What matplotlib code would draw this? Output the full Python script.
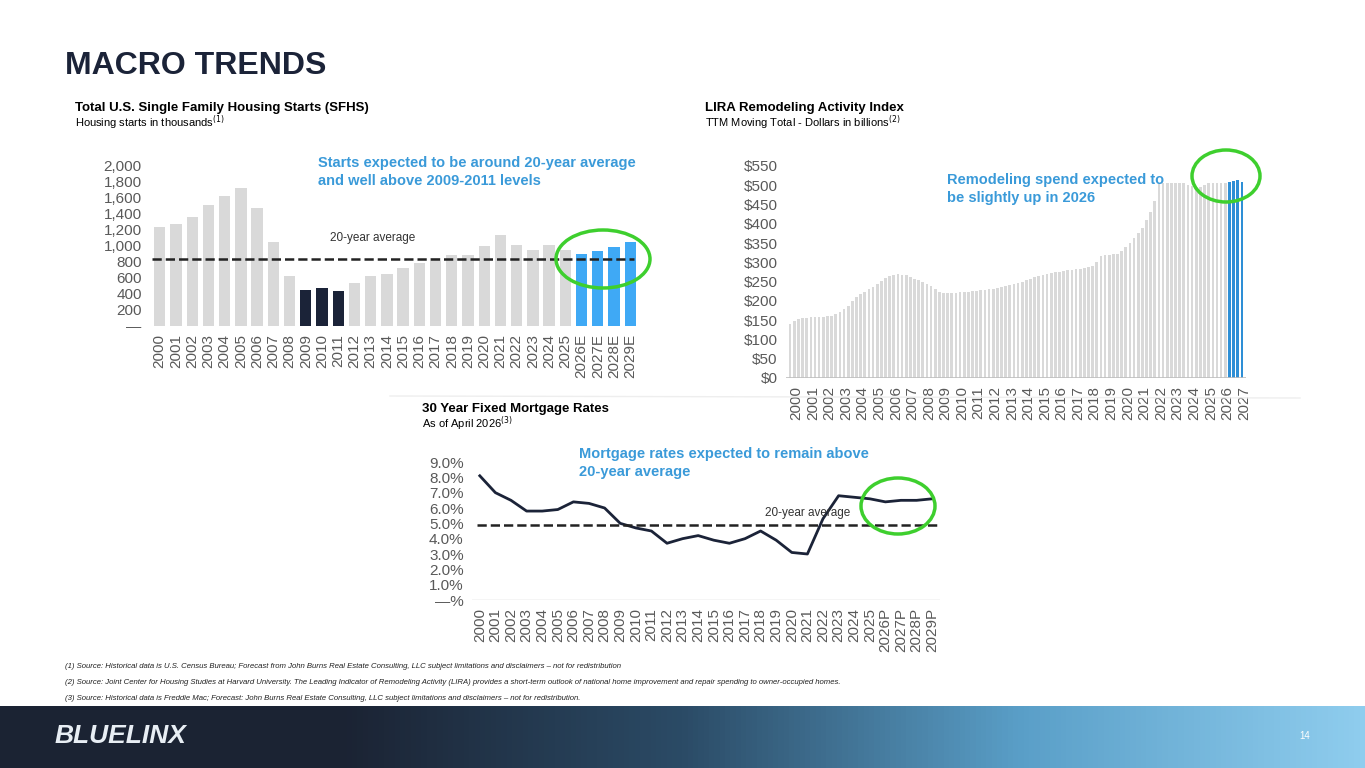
import numpy as np
import matplotlib.pyplot as plt
from matplotlib.patches import Ellipse
from matplotlib.colors import LinearSegmentedColormap

plt.rcParams['font.family'] = ['Liberation Sans', 'DejaVu Sans']

# housing starts
hs_years = [str(y) for y in range(2000, 2026)] + ['2026E', '2027E', '2028E', '2029E']
hs_vals = [1230, 1273, 1359, 1499, 1611, 1716, 1465, 1046, 622, 445, 471, 431, 535, 618,
           648, 715, 782, 849, 876, 888, 991, 1127, 1005, 947, 1006, 940, 900, 930, 980, 1040]
hs_avg = 835

# LIRA quarterly, 2000Q1 - 2027Q2
lira_vals = [141, 148, 153, 155, 156, 158, 158, 157, 157, 160, 162, 165, 170, 178, 188, 200,
             210, 218, 224, 230, 236, 244, 252, 260, 265, 268, 271, 268, 266, 262, 258, 254,
             250, 244, 238, 230, 224, 220, 220, 220, 221, 222, 223, 224, 226, 227, 228, 229,
             230, 232, 234, 236, 238, 240, 243, 246, 250, 254, 258, 262, 265, 268, 270, 272,
             274, 276, 278, 280, 281, 282, 284, 286, 288, 290, 300, 317, 320, 320, 321, 322,
             330, 340, 350, 362, 375, 390, 410, 430, 460, 507, 507, 507, 507, 507, 507, 507,
             500, 498, 495, 495, 500, 505, 505, 505, 505, 505, 508, 510, 514, 508]
lira_years = [str(y) for y in range(2000, 2028)]
n_forecast = 4

# mortgage rates
mr_years = [str(y) for y in range(2000, 2026)] + ['2026P', '2027P', '2028P', '2029P']
mr_vals = [8.1, 7.0, 6.5, 5.8, 5.8, 5.9, 6.4, 6.3, 6.0, 5.0, 4.7, 4.5, 3.7, 4.0, 4.2,
           3.9, 3.7, 4.0, 4.5, 3.9, 3.1, 3.0, 5.3, 6.8, 6.7, 6.6, 6.4, 6.5, 6.5, 6.6]
mr_avg = 4.9

W, H = 1365, 768
fig = plt.figure(figsize=(13.65, 7.68), dpi=100)
GRAY = '#d9d9d9'
BLUE = '#3fa9f5'
NAVY = '#1b2338'
TXT = '#595959'
ANN = '#3a9ad9'
TICK = 11

def fx(x): return x / W
def fy(y): return 1 - y / H

fig.text(fx(65), fy(66), 'MACRO TRENDS', fontsize=23, fontweight='bold', color=NAVY, va='center')

# ---- chart 1
ax1 = fig.add_axes([fx(150), fy(326), fx(490), (326 - 165) / H])
cols = [GRAY] * len(hs_vals)
for i, y in enumerate(hs_years):
    if y in ('2009', '2010', '2011'):
        cols[i] = NAVY
    if y.endswith('E'):
        cols[i] = BLUE
x1 = np.arange(len(hs_vals))
ax1.bar(x1, hs_vals, width=0.7, color=cols)
ax1.plot([-0.5, len(hs_vals) - 0.8], [hs_avg, hs_avg], '--', color='#222222', lw=1.8)
ax1.text(10.5, 1050, '20-year average', fontsize=8.5, color='#333333')
ax1.set_ylim(0, 2000)
ax1.set_xlim(-0.6, len(hs_vals) - 0.4)
ax1.set_yticks(range(0, 2001, 200))
ax1.set_yticklabels(['—'] + [f'{v:,}' for v in range(200, 2001, 200)])
ax1.set_xticks(x1)
ax1.set_xticklabels(hs_years, rotation=90)
ax1.tick_params(length=0, labelsize=TICK, labelcolor=TXT, pad=6)
for s in ax1.spines.values():
    s.set_visible(False)
fig.text(fx(75), fy(108), 'Total U.S. Single Family Housing Starts (SFHS)', fontsize=9.5, fontweight='bold', va='center')
fig.text(fx(75), fy(123), 'Housing starts in thousands$^{(1)}$', fontsize=8, va='center')
fig.text(fx(318), fy(172), 'Starts expected to be around 20-year average\nand well above 2009-2011 levels',
         fontsize=10.5, fontweight='bold', color=ANN, va='center', linespacing=1.3)

# ---- chart 2
ax2 = fig.add_axes([fx(786), fy(378), fx(460), 212 / H])
x2 = np.arange(len(lira_vals))
cols2 = [GRAY] * (len(lira_vals) - n_forecast) + ['#2e8fd6'] * n_forecast
ax2.bar(x2, lira_vals, width=0.65, color=cols2)
ax2.set_ylim(0, 550)
ax2.set_xlim(-1, len(lira_vals))
ax2.set_yticks(range(0, 551, 50))
ax2.set_yticklabels([f'${v}' for v in range(0, 551, 50)])
ax2.set_xticks(np.arange(len(lira_years)) * 4 + 1.5)
ax2.set_xticklabels(lira_years, rotation=90)
ax2.tick_params(length=0, labelsize=TICK, labelcolor=TXT, pad=6)
for s in ax2.spines.values():
    s.set_visible(False)
ax2.axhline(0, color='#bfbfbf', lw=1.2)
fig.text(fx(705), fy(108), 'LIRA Remodeling Activity Index', fontsize=9.5, fontweight='bold', va='center')
fig.text(fx(705), fy(123), 'TTM Moving Total - Dollars in billions$^{(2)}$', fontsize=8, va='center')
fig.text(fx(947), fy(189), 'Remodeling spend expected to\nbe slightly up in 2026',
         fontsize=10.5, fontweight='bold', color=ANN, va='center', linespacing=1.3)

# separator line
fig.add_artist(plt.Line2D([fx(390), fx(1300)], [fy(396), fy(398)], color='#eeeeee', lw=1))

# ---- chart 3
ax3 = fig.add_axes([fx(472), fy(600), fx(468), 138 / H])
x3 = np.arange(len(mr_vals))
ax3.plot(x3, mr_vals, color=NAVY, lw=2)
ax3.plot([-0.2, len(mr_vals) - 0.6], [mr_avg, mr_avg], '--', color='#222222', lw=1.8)
ax3.text(18.3, 5.5, '20-year average', fontsize=8.5, color='#333333')
ax3.set_ylim(0, 9)
ax3.set_xlim(-0.5, len(mr_vals) - 0.5)
ax3.set_yticks(range(0, 10))
ax3.set_yticklabels(['—%'] + [f'{v:.1f}%' for v in range(1, 10)])
ax3.set_xticks(x3)
ax3.set_xticklabels(mr_years, rotation=90)
ax3.tick_params(length=0, labelsize=TICK, labelcolor=TXT, pad=6)
for s in ax3.spines.values():
    s.set_visible(False)
ax3.axhline(0, color='#d0d0d0', lw=1)
fig.text(fx(422), fy(409), '30 Year Fixed Mortgage Rates', fontsize=9.5, fontweight='bold', va='center')
fig.text(fx(422), fy(424), 'As of April 2026$^{(3)}$', fontsize=8, va='center')
fig.text(fx(579), fy(463), 'Mortgage rates expected to remain above\n20-year average',
         fontsize=10.5, fontweight='bold', color=ANN, va='center', linespacing=1.3)

# green circles
for cx, cy, w, h in [(603, 259, 94, 58), (1226, 176, 68, 52), (898, 506, 74, 56)]:
    fig.add_artist(Ellipse((fx(cx), fy(cy)), fx(w), h / H, fill=False, ec='#3ecf2e', lw=2.5))

# footnotes
notes = ['(1) Source: Historical data is U.S. Census Bureau; Forecast from John Burns Real Estate Consulting, LLC subject limitations and disclaimers \u2013 not for redistribution',
         '(2) Source: Joint Center for Housing Studies at Harvard University. The Leading Indicator of Remodeling Activity (LIRA) provides a short-term outlook of national home improvement and repair spending to owner-occupied homes.',
         '(3) Source: Historical data is Freddie Mac; Forecast: John Burns Real Estate Consulting, LLC subject limitations and disclaimers \u2013 not for redistribution.']
for i, n in enumerate(notes):
    fig.text(fx(65), fy(667 + i * 16), n, fontsize=5.6, style='italic', va='center', color='#222222')

# footer band
axf = fig.add_axes([0, 0, 1, (768 - 706) / H])
cmap = LinearSegmentedColormap.from_list('f', ['#1b2333', '#1b2333', '#2b4b66', '#5a9fc8', '#8fcdee'])
axf.imshow(np.linspace(0, 1, 256)[None, :], aspect='auto', cmap=cmap, extent=[0, 1, 0, 1])
axf.set_axis_off()
fig.text(fx(55), fy(736), 'BLUELINX', fontsize=19, fontweight='bold', style='italic', color='#e8eef4', va='center')
fig.text(fx(1310), fy(736), '14', fontsize=7, color='white', va='center', ha='right')

fig.savefig('out.png', dpi=100)
